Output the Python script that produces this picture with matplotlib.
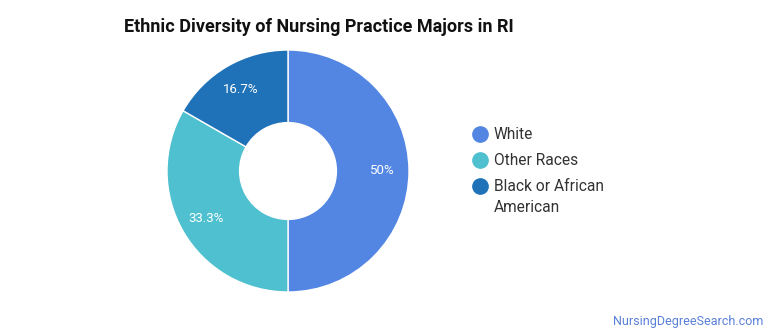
import math
import matplotlib.pyplot as plt

# data
categories = ['White', 'Other Races', 'Black or African\nAmerican']
shares = [50.0, 33.3, 16.7]
pct_labels = ['50%', '33.3%', '16.7%']
colors = ['#5286e2', '#4fc0cf', '#1f72b8']

plt.rcParams['font.family'] = ['Roboto', 'DejaVu Sans']

fig = plt.figure(figsize=(7.7, 3.35), dpi=100)
W, H = 770, 335

# donut axes: centre (288, 171) px, radius 121 px
cx, cy, r = 288, 171, 121
ax = fig.add_axes([(cx - r) / W, (H - cy - r) / H, 2 * r / W, 2 * r / H])
wedges, _ = ax.pie(shares, colors=colors, startangle=90, counterclock=False,
                   radius=1.0, wedgeprops=dict(width=0.6, edgecolor='white', linewidth=1))
ax.set_xlim(-1, 1)
ax.set_ylim(-1, 1)
ax.set_aspect('equal')
ax.axis('off')

# percent labels inside the ring
ang = 90.0
for s, lab in zip(shares, pct_labels):
    mid = ang - s / 100 * 360 / 2
    ang -= s / 100 * 360
    rr = 0.78
    ax.text(rr * math.cos(math.radians(mid)), rr * math.sin(math.radians(mid)), lab,
            ha='center', va='center', color='white', fontsize=9.5)

fig.text(124 / W, 1 - 27 / H, 'Ethnic Diversity of Nursing Practice Majors in RI',
         ha='left', va='center', fontsize=13, fontweight='bold', color='#111111')

# legend
ys = [134, 160, 186]
for y, name, c in zip(ys, categories, colors):
    fig.lines.append(plt.Line2D([480 / W], [1 - y / H], transform=fig.transFigure,
                                marker='o', markersize=11, color=c, linestyle='none'))
    fig.text(494 / W, 1 - (y - 7) / H, name, ha='left', va='top', fontsize=11.2,
             color='#333333', linespacing=1.5)

fig.text(763 / W, 1 - 321 / H, 'NursingDegreeSearch.com', ha='right', va='center',
         fontsize=9, color='#5a80d8')

fig.savefig('out.png', dpi=100)
